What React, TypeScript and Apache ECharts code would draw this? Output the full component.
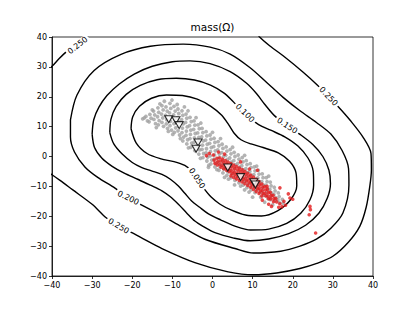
import React, { useEffect, useRef } from "react";
import * as echarts from "echarts";

const TITLE = "mass(\u03A9)";
const AXIS_MIN = -40;
const AXIS_MAX = 40;
const AXIS_STEP = 10;

// contour levels (closed loops / open pieces)
const level050: number[][] = [
  [-20.3, 9.3], [-19.9, 13.2], [-18.2, 16.8], [-15.2, 19.5], [-11.5, 20.6], [-7.5, 20.4], [-3.8, 19.2],
  [-0.4, 16.8], [2.3, 13.8], [4.1, 10.5], [5.4, 7.8], [7.1, 5.6], [9.6, 4.2], [12.6, 3.0], [16.4, 1.2],
  [19.2, -1.6], [20.8, -5.4], [21.0, -9.8], [19.5, -14.4], [16.2, -18.2], [12.2, -19.9], [8.2, -19.6],
  [4.6, -17.9], [1.8, -15.9], [-0.4, -13.5], [-2.2, -10.6], [-3.9, -7.3], [-5.3, -4.8], [-6.9, -3.0],
  [-9.6, -1.7], [-12.8, -0.8], [-16.3, 1.0], [-19.0, 4.5], [-20.3, 9.3],
];
const level100: number[][] = [
  [-25.6, 8.0], [-25.3, 12.5], [-24.0, 16.8], [-21.5, 20.8], [-18.0, 23.8], [-13.8, 25.7], [-9.0, 26.2],
  [-4.5, 25.6], [-0.5, 23.9], [2.8, 21.3], [5.0, 18.6], [6.6, 16.3], [8.1, 14.5], [9.6, 12.6], [11.5, 10.7],
  [14.5, 8.8], [18.0, 6.6], [21.3, 3.5], [23.8, -0.5], [25.1, -5.0], [25.2, -9.5], [24.3, -14.5],
  [22.0, -19.0], [18.5, -22.4], [14.0, -24.3], [9.5, -24.6], [5.6, -23.3], [2.0, -21.2], [-1.0, -19.2],
  [-3.2, -17.0], [-5.2, -14.9], [-6.9, -12.3], [-8.5, -9.9], [-10.5, -7.6], [-12.6, -6.0], [-15.2, -4.8],
  [-17.6, -3.7], [-20.0, -2.0], [-22.5, 0.8], [-24.6, 4.2], [-25.6, 8.0],
];
const level150: number[][] = [
  [-30.0, 7.5], [-29.6, 12.3], [-28.3, 16.5], [-26.3, 20.4], [-23.3, 24.2], [-19.5, 27.6], [-15.0, 30.2],
  [-10.0, 31.7], [-5.6, 32.0], [-0.6, 31.1], [4.4, 28.4], [8.5, 24.5], [11.0, 21.0], [13.0, 17.5],
  [15.5, 13.6], [18.6, 10.3], [21.8, 7.4], [25.0, 4.0], [27.5, 0.0], [29.0, -4.5], [29.4, -9.0],
  [28.6, -14.0], [26.5, -19.0], [23.2, -23.0], [19.0, -25.8], [14.0, -27.6], [9.4, -28.2], [5.3, -27.3],
  [0.6, -25.5], [-2.2, -23.5], [-4.4, -21.6], [-6.5, -18.8], [-8.5, -16.0], [-10.5, -13.5], [-12.6, -11.5],
  [-15.5, -9.6], [-18.5, -7.7], [-22.0, -5.6], [-25.0, -3.3], [-27.6, -0.5], [-29.4, 3.0], [-30.0, 7.5],
];
const level200: number[][] = [
  [-35.4, 12.3], [-33.8, 20.5], [-29.5, 28.8], [-22.8, 34.2], [-15.5, 36.9], [-7.3, 37.6], [-0.6, 36.6],
  [4.4, 34.3], [9.3, 29.8], [13.5, 24.8], [17.6, 19.8], [21.8, 15.3], [25.9, 11.4], [29.5, 7.5],
  [32.3, 2.0], [33.9, -4.0], [34.0, -9.5], [32.5, -18.9], [29.5, -24.0], [26.0, -27.6], [21.8, -30.0],
  [17.0, -31.7], [10.2, -32.3], [5.6, -30.8], [-1.9, -27.7], [-7.7, -23.5], [-12.6, -19.8], [-18.0, -16.0],
  [-21.0, -13.9], [-24.3, -10.6], [-28.6, -7.0], [-31.8, -3.5], [-34.4, 1.5], [-35.4, 6.5], [-35.4, 12.3],
];
const level250Main: number[][] = [
  [10.8, 42.0], [11.8, 39.9], [14.5, 36.8], [17.6, 33.7], [22.6, 28.2], [26.3, 23.7], [28.9, 20.1],
  [31.8, 16.0], [34.2, 12.3], [37.5, 6.5], [39.5, 1.0], [39.6, -4.5], [39.2, -10.0], [38.3, -17.0],
  [36.7, -23.4], [33.8, -28.8], [30.0, -33.4], [26.0, -35.8], [21.8, -37.5], [16.0, -39.0], [10.2, -39.6],
  [3.9, -38.6], [-4.4, -35.5], [-12.6, -30.8], [-18.0, -27.0], [-20.1, -25.5], [-23.4, -23.3],
  [-26.5, -20.5], [-30.0, -16.0], [-34.9, -11.1], [-38.0, -8.0], [-40.0, -6.1], [-42.0, -4.3],
];
const level250Corner: number[][] = [
  [-42.0, 28.3], [-40.0, 30.2], [-38.2, 32.8], [-36.3, 35.2], [-33.4, 38.0], [-31.5, 40.0], [-30.0, 41.5],
];

// contour labels: [x, y, text, angle]
const contourLabels: [number, number, string, number][] = [
  [-33.6, 37.2, "0.250", 38],
  [8.1, 14.5, "0.100", -44],
  [18.6, 10.3, "0.150", -34],
  [28.9, 20.1, "0.250", -47],
  [-3.9, -7.3, "0.050", -56],
  [-21.0, -13.9, "0.200", -26],
  [-23.4, -23.3, "0.250", -30],
];

// grey sample cloud
const greyPoints: number[][] = [
  [-17.4, 12.6], [-16.6, 13.4], [-16.2, 11.9], [-15.6, 14.1], [-15.3, 12.8], [-15.8, 11.6],
  [-14.7, 15.2], [-14.4, 13.9], [-14.6, 12.4], [-14.2, 11.0],
  [-13.6, 16.3], [-13.4, 14.8], [-13.7, 13.3], [-13.3, 12.0], [-13.5, 10.6],
  [-12.6, 17.0], [-12.3, 15.6], [-12.7, 14.2], [-12.4, 12.9], [-12.6, 11.4], [-12.2, 10.1],
  [-11.6, 16.6], [-11.3, 15.2], [-11.7, 13.8], [-11.4, 12.3], [-11.5, 10.9], [-11.2, 9.4],
  [-10.6, 17.8], [-10.4, 16.1], [-10.7, 14.6], [-10.3, 13.2], [-10.5, 11.8], [-10.6, 10.3], [-10.2, 8.8],
  [-9.6, 16.8], [-9.3, 15.2], [-9.7, 13.9], [-9.4, 12.4], [-9.6, 11.0], [-9.2, 9.6], [-9.5, 8.1],
  [-8.6, 15.9], [-8.4, 14.4], [-8.7, 13.0], [-8.3, 11.5], [-8.5, 10.1], [-8.6, 8.6], [-8.2, 7.2],
  [-7.6, 15.3], [-7.4, 13.8], [-7.7, 12.3], [-7.3, 10.9], [-7.5, 9.5], [-7.6, 8.0], [-7.2, 6.5], [-7.4, 5.2],
  [-6.6, 14.2], [-6.4, 12.8], [-6.7, 11.4], [-6.3, 9.9], [-6.5, 8.5], [-6.6, 7.1], [-6.2, 5.6], [-6.4, 4.2],
  [-5.6, 13.1], [-5.3, 11.7], [-5.7, 10.3], [-5.4, 8.8], [-5.5, 7.4], [-5.6, 6.0], [-5.2, 4.5], [-5.4, 3.1],
  [-4.6, 11.9], [-4.4, 10.5], [-4.7, 9.1], [-4.3, 7.7], [-4.5, 6.2], [-4.6, 4.8], [-4.2, 3.4], [-4.4, 2.0],
  [-3.6, 10.6], [-3.3, 9.3], [-3.7, 7.9], [-3.4, 6.4], [-3.5, 5.0], [-3.6, 3.6], [-3.2, 2.2], [-3.4, 0.8],
  [-2.6, 9.4], [-2.4, 8.0], [-2.7, 6.6], [-2.3, 5.2], [-2.5, 3.8], [-2.6, 2.4], [-2.2, 1.0], [-2.4, -0.4],
  [-1.6, 8.3], [-1.4, 6.9], [-1.7, 5.5], [-1.3, 4.1], [-1.5, 2.6], [-1.6, 1.2], [-1.2, -0.2], [-1.4, -1.5],
  [-0.6, 7.2], [-0.4, 5.8], [-0.7, 4.4], [-0.3, 3.0], [-0.5, 1.6], [-0.6, 0.2], [-0.2, -1.2], [-0.4, -2.5],
  [0.4, 6.1], [0.6, 4.7], [0.3, 3.3], [0.7, 1.9], [0.5, 0.5], [0.4, -0.9], [0.8, -2.2], [0.6, -3.5],
  [1.4, 5.0], [1.6, 3.6], [1.3, 2.2], [1.7, 0.8], [1.5, -0.6], [1.4, -2.0], [1.8, -3.3], [1.6, -4.6],
  [2.4, 4.1], [2.6, 2.7], [2.3, 1.3], [2.7, -0.1], [2.5, -1.5], [2.4, -2.9], [2.8, -4.2], [2.6, -5.5],
  [3.4, 3.2], [3.6, 1.8], [3.3, 0.4], [3.7, -1.0], [3.5, -2.4], [3.4, -3.8], [3.8, -5.1], [3.6, -6.3],
  [4.4, 2.3], [4.6, 0.9], [4.3, -0.5], [4.7, -1.9], [4.5, -3.3], [4.4, -4.6], [4.8, -5.9], [4.6, -7.1],
  [5.4, 1.4], [5.6, 0.0], [5.3, -1.4], [5.7, -2.8], [5.5, -4.1], [5.4, -5.5], [5.8, -6.8], [5.6, -8.0],
  [6.4, 0.5], [6.6, -0.9], [6.3, -2.3], [6.7, -3.6], [6.5, -5.0], [6.4, -6.3], [6.8, -7.6], [6.6, -8.8],
  [7.4, -0.4], [7.6, -1.8], [7.3, -3.1], [7.7, -4.5], [7.5, -5.8], [7.4, -7.2], [7.8, -8.5], [7.6, -9.6],
  [8.4, -1.4], [8.6, -2.7], [8.3, -4.1], [8.7, -5.4], [8.5, -6.7], [8.4, -8.1], [8.8, -9.3], [8.6, -10.4],
  [9.4, -2.4], [9.6, -3.7], [9.3, -5.0], [9.7, -6.3], [9.5, -7.6], [9.4, -8.9], [9.8, -10.1], [9.6, -11.2],
  [10.4, -3.5], [10.6, -4.8], [10.3, -6.1], [10.7, -7.4], [10.5, -8.7], [10.4, -9.9], [10.8, -11.1], [10.6, -12.1],
  [11.4, -4.6], [11.6, -5.9], [11.3, -7.2], [11.7, -8.5], [11.5, -9.7], [11.4, -10.9], [11.8, -12.0],
  [12.4, -5.8], [12.6, -7.1], [12.3, -8.4], [12.7, -9.6], [12.5, -10.8], [12.4, -12.0], [12.8, -13.0],
  [13.4, -7.1], [13.6, -8.4], [13.3, -9.6], [13.7, -10.8], [13.5, -12.0], [13.4, -13.1], [13.8, -14.1],
  [14.4, -8.6], [14.6, -9.8], [14.3, -11.0], [14.7, -12.2], [14.5, -13.3], [14.4, -14.4],
  [15.4, -10.3], [15.6, -11.5], [15.3, -12.7], [15.7, -13.8], [15.5, -14.8],
  [16.4, -12.2], [16.6, -13.4], [16.3, -14.5], [16.7, -15.5], [17.4, -14.4], [17.6, -15.6],
  [-12.0, 18.5], [-10.1, 18.9], [-7.0, 16.6], [-4.1, 13.0], [-17.0, 12.9], [-14.0, 9.7], [5.5, -9.5],
  [-1.0, -3.6], [10.0, -13.6], [13.0, -15.3], [-8.8, 17.4], [3.0, -7.0], [8.0, -11.2], [15.0, -16.2],
  [-13.1, 17.6], [-11.0, 8.4], [-9.9, 7.4], [-8.0, 6.0], [-6.0, 2.9], [-3.0, -0.6], [-0.9, -2.9],
  [1.1, -4.4], [4.0, -7.6], [7.0, -9.9], [9.1, -11.9], [12.0, -13.6], [-15.0, 15.6], [-6.1, 15.3],
  [-2.9, 11.2], [0.0, 8.1], [2.0, 6.0], [5.0, 3.1], [8.0, 0.4], [11.0, -3.2], [14.0, -6.6],
];

// red sample cloud
const redPoints: number[][] = [
  [0.4, -1.2], [0.6, -2.3], [1.1, -0.6], [1.3, -1.7], [1.2, -2.8],
  [1.8, -0.4], [2.0, -1.5], [1.9, -2.6], [2.1, -3.6], [2.5, -0.9], [2.7, -2.0], [2.6, -3.1], [2.8, -4.1],
  [3.2, -1.4], [3.4, -2.5], [3.3, -3.6], [3.5, -4.6], [3.9, -1.9], [4.1, -3.0], [4.0, -4.1], [4.2, -5.1],
  [4.6, -2.4], [4.8, -3.5], [4.7, -4.6], [4.9, -5.6], [4.6, -6.5],
  [5.3, -2.9], [5.5, -4.0], [5.4, -5.1], [5.6, -6.1], [5.3, -7.0],
  [6.0, -3.4], [6.2, -4.5], [6.1, -5.6], [6.3, -6.6], [6.0, -7.5],
  [6.7, -3.9], [6.9, -5.0], [6.8, -6.1], [7.0, -7.1], [6.7, -8.0],
  [7.4, -4.4], [7.6, -5.5], [7.5, -6.6], [7.7, -7.6], [7.4, -8.5],
  [8.1, -5.0], [8.3, -6.1], [8.2, -7.2], [8.4, -8.2], [8.1, -9.1],
  [8.8, -5.6], [9.0, -6.7], [8.9, -7.8], [9.1, -8.8], [8.8, -9.7],
  [9.5, -6.2], [9.7, -7.3], [9.6, -8.4], [9.8, -9.4], [9.5, -10.3],
  [10.2, -6.9], [10.4, -8.0], [10.3, -9.1], [10.5, -10.1], [10.2, -11.0],
  [10.9, -7.6], [11.1, -8.7], [11.0, -9.8], [11.2, -10.8], [10.9, -11.7],
  [11.6, -8.4], [11.8, -9.5], [11.7, -10.6], [11.9, -11.6], [11.6, -12.4],
  [12.3, -9.2], [12.5, -10.3], [12.4, -11.4], [12.6, -12.4], [12.3, -13.2],
  [13.0, -10.1], [13.2, -11.2], [13.1, -12.3], [13.3, -13.2],
  [13.7, -11.0], [13.9, -12.1], [13.8, -13.2], [14.0, -14.1],
  [14.4, -12.0], [14.6, -13.1], [14.5, -14.2], [15.1, -13.0], [15.3, -14.1], [15.2, -15.1],
  [15.8, -14.1], [16.0, -15.2],
  [-1.5, 0.3], [-0.8, 1.0], [0.2, 0.5], [1.5, 1.5], [3.0, 0.8], [16.8, -15.8], [17.3, -16.8],
  [18.2, -16.3], [18.9, -12.5], [19.3, -13.9], [16.5, -17.0], [17.8, -15.0], [24.3, -16.7],
  [24.4, -17.8], [24.1, -19.5], [25.7, -25.6], [20.0, -14.3], [14.0, -16.0], [12.4, -14.6],
  [11.2, -4.6], [13.6, -10.0], [16.8, -10.5], [14.7, -16.7], [9.2, -4.2], [7.0, -1.8],
];

// markers (white down-pointing triangles)
const markerPoints: number[][] = [
  [-10.9, 12.5], [-9.1, 12.1], [-8.3, 10.5], [-3.6, 4.7], [-4.1, 2.6],
  [3.8, -3.7], [7.0, -6.9], [10.3, -8.6], [10.7, -9.4],
];

const FONT = "DejaVu Sans";
const fmt = (v: number) => String(v).replace("-", "\u2212");

export default function App() {
  const ref = useRef<HTMLDivElement>(null);
  useEffect(() => {
    if (!ref.current) return;
    const chart = echarts.init(ref.current, undefined, { renderer: "svg" });
    const contourSeries = [level050, level100, level150, level200, level250Main, level250Corner].map(
      (pts) => ({
        type: "line",
        data: pts,
        showSymbol: false,
        symbol: "none",
        smooth: 0.3,
        clip: true,
        silent: true,
        z: 2,
        lineStyle: { color: "#000", width: 1.4 },
      })
    );
    const labelStyle = {
      show: true,
      position: "inside",
      color: "#000",
      fontSize: 8,
      fontFamily: FONT,
      backgroundColor: "#fff",
      padding: [0, 2],
      textBorderWidth: 0,
      textBorderColor: "transparent",
      opacity: 1,
    };
    chart.setOption({
      animation: false,
      backgroundColor: "#fff",
      graphic: [
        {
          type: "text",
          x: 212.5,
          y: 27,
          style: {
            text: TITLE,
            fill: "#000",
            font: `10.5px '${FONT}'`,
            textAlign: "center",
            textVerticalAlign: "middle",
          },
        },
      ],
      grid: {
        left: 52,
        top: 37,
        width: 321,
        height: 239,
        show: true,
        borderColor: "#000",
        borderWidth: 0.8,
        backgroundColor: "transparent",
      },
      xAxis: {
        type: "value",
        min: AXIS_MIN,
        max: AXIS_MAX,
        interval: AXIS_STEP,
        splitLine: { show: false },
        axisLine: { show: true, onZero: false, lineStyle: { color: "#000", width: 0.8 } },
        axisTick: { show: true, inside: false, length: 3, lineStyle: { color: "#000", width: 0.8 } },
        axisLabel: { color: "#000", fontSize: 8, fontFamily: FONT, margin: 5, formatter: fmt },
      },
      yAxis: {
        type: "value",
        min: AXIS_MIN,
        max: AXIS_MAX,
        interval: AXIS_STEP,
        splitLine: { show: false },
        axisLine: { show: true, onZero: false, lineStyle: { color: "#000", width: 0.8 } },
        axisTick: { show: true, inside: false, length: 3, lineStyle: { color: "#000", width: 0.8 } },
        axisLabel: { color: "#000", fontSize: 8, fontFamily: FONT, margin: 5, formatter: fmt },
      },
      series: [
        ...contourSeries,
        {
          type: "scatter",
          data: greyPoints,
          symbol: "circle",
          symbolSize: 3.8,
          silent: true,
          z: 3,
          itemStyle: { color: "#a0a0a0" },
        },
        {
          type: "scatter",
          data: redPoints,
          symbol: "circle",
          symbolSize: 3.6,
          silent: true,
          z: 4,
          itemStyle: { color: "#e41a1c" },
        },
        {
          type: "scatter",
          data: markerPoints,
          symbol: "triangle",
          symbolRotate: 180,
          symbolSize: [8, 7],
          silent: true,
          z: 5,
          itemStyle: { color: "#fff", borderColor: "#000", borderWidth: 1.1 },
        },
        {
          type: "scatter",
          data: contourLabels.map(([x, y, t, a]) => ({
            value: [x, y],
            name: t,
            label: { ...labelStyle, rotate: a, formatter: t },
          })),
          symbolSize: 1,
          silent: true,
          z: 6,
          itemStyle: { color: "rgba(255,255,255,0)", opacity: 1 },
          label: labelStyle,
          emphasis: { disabled: true },
        },
      ],
    });
    return () => chart.dispose();
  }, []);
  return (
    <div
      ref={ref}
      style={{ position: "fixed", left: 0, top: 0, width: 415, height: 311 }}
    />
  );
}
